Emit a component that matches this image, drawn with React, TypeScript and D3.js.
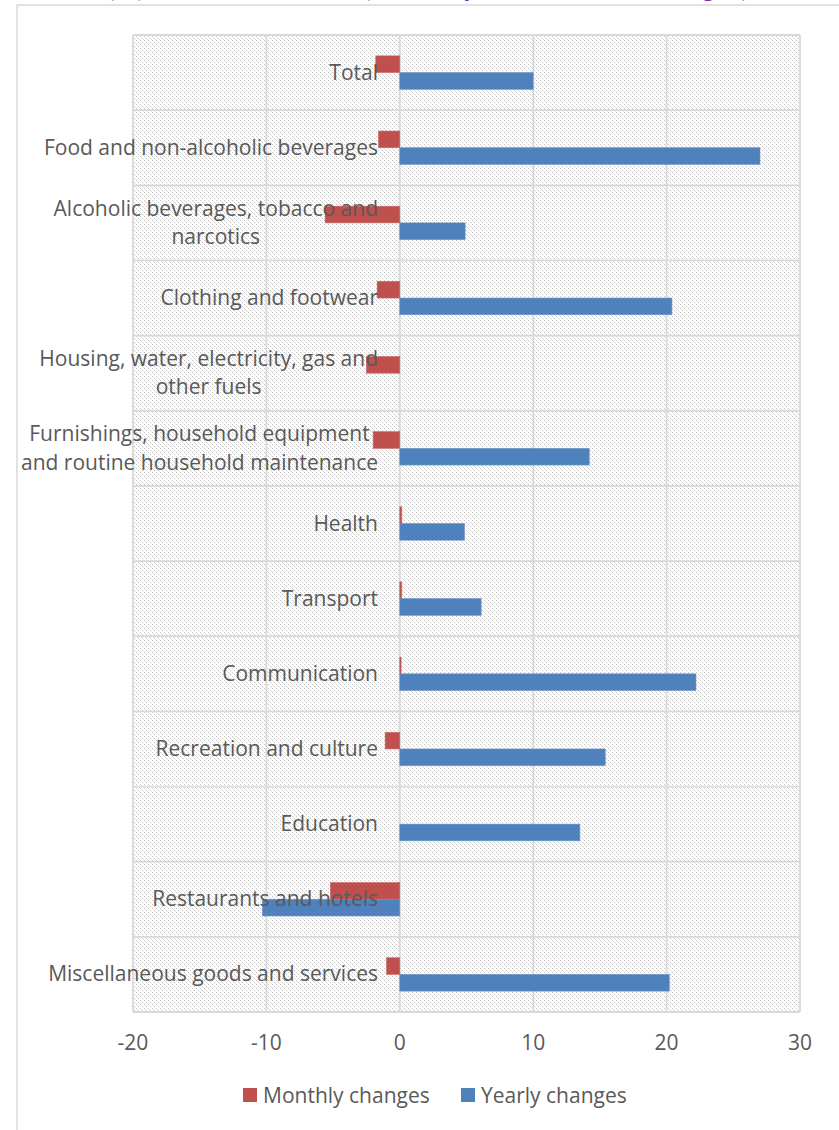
import React from "react";
import * as d3 from "d3";

const categories = [
  ["Total"],
  ["Food and non-alcoholic beverages"],
  ["Alcoholic beverages, tobacco and", "narcotics"],
  ["Clothing and footwear"],
  ["Housing, water, electricity, gas and", "other fuels"],
  ["Furnishings, household equipment", "and routine household maintenance"],
  ["Health"],
  ["Transport"],
  ["Communication"],
  ["Recreation and culture"],
  ["Education"],
  ["Restaurants and hotels"],
  ["Miscellaneous goods and services"],
];
const monthly = [-1.8, -1.6, -5.6, -1.7, -2.5, -2.0, 0.15, 0.15, 0.1, -1.1, 0, -5.2, -1.0];
const yearly = [10.0, 27.0, 4.9, 20.4, 0, 14.2, 4.85, 6.1, 22.2, 15.4, 13.5, -10.3, 20.2];
const xTicks = [-20, -10, 0, 10, 20, 30];
const seriesNames = ["Monthly changes", "Yearly changes"];
const colors = ["#C0504D", "#4F81BD"];

const W = 839;
const H = 1130;
const left = 133, right = 800, top = 35, bottom = 1012;
const FONT = "'Open Sans', sans-serif";
const FS = 21;
const TXT = "#595959";
const GRID = "#d9d9d9";

let ctx: CanvasRenderingContext2D | null = null;
function measure(s: string): number {
  if (typeof document === "undefined") return s.length * FS * 0.5;
  if (!ctx) ctx = document.createElement("canvas").getContext("2d");
  if (!ctx) return s.length * FS * 0.5;
  ctx.font = `${FS}px 'Open Sans', sans-serif`;
  return ctx.measureText(s).width;
}

export default function App() {
  const x = d3.scaleLinear().domain([-20, 30]).range([left, right]);
  const keys = categories.map((c) => c.join(" "));
  const y = d3.scaleBand().domain(keys).range([top, bottom]).paddingInner(0).paddingOuter(0);
  const inner = d3
    .scaleBand()
    .domain(seriesNames)
    .range([0, y.bandwidth()])
    .paddingInner(0)
    .paddingOuter(1.25);
  const series = [monthly, yearly];
  const titleFont = "'Liberation Serif', serif";

  return (
    <svg width={W} height={H} style={{ position: "absolute", left: 0, top: 0 }}>
      <defs>
        <pattern id="hatch" width="4" height="4" patternUnits="userSpaceOnUse">
          <rect x="0" y="0" width="1" height="1" fill="#c6c6c6" />
          <rect x="1" y="1" width="1" height="1" fill="#e8e8e8" />
          <rect x="2" y="2" width="1" height="1" fill="#c6c6c6" />
          <rect x="3" y="3" width="1" height="1" fill="#e8e8e8" />
        </pattern>
      </defs>
      <rect x={0} y={0} width={W} height={H} fill="#fff" />
      {/* cut-off title (only descenders visible) */}
      <text x={146} y={-4} textAnchor="end" fontFamily={titleFont} fontWeight="bold" fontSize={24} fill="#7030A0">
        Chart 2: Consumer Price Index (%)
      </text>
      <text x={175} y={-4} fontFamily={titleFont} fontWeight="bold" fontSize={24} fill="#7030A0">
        Inflation rates
      </text>
      <text x={362} y={-4} fontFamily={titleFont} fontWeight="bold" fontSize={24} fill="#7030A0" textLength={388} lengthAdjust="spacing">
        (Monthly and Annual changes)
      </text>
      {/* outer chart border */}
      <rect x={17} y={5} width={900} height={1300} fill="#fff" stroke={GRID} strokeWidth={1.5} />
      {/* plot area */}
      <rect x={left} y={top} width={right - left} height={bottom - top} fill="url(#hatch)" shapeRendering="crispEdges" />
      {xTicks.map((t) => (
        <line key={"v" + t} x1={x(t)} x2={x(t)} y1={top} y2={bottom} stroke={GRID} strokeWidth={1.8} />
      ))}
      {keys.map((k) => (
        <line key={"h" + k} x1={left} x2={right} y1={y(k)!} y2={y(k)!} stroke={GRID} strokeWidth={1.8} />
      ))}
      <line x1={left} x2={right} y1={bottom} y2={bottom} stroke={GRID} strokeWidth={1.8} />
      {/* bars */}
      {series.map((vals, si) =>
        vals.map((v, i) => {
          const k = keys[i];
          const y0 = y(k)! + inner(seriesNames[si])!;
          const x0 = x(Math.min(0, v));
          const w = Math.abs(x(v) - x(0));
          if (w === 0) return null;
          return (
            <rect key={si + "-" + i} x={x0} y={y0} width={w} height={inner.bandwidth()} fill={colors[si]} stroke={si === 0 ? "#c86a68" : "#6a94c6"} strokeWidth={0.6} />
          );
        })
      )}
      {/* category labels */}
      {categories.map((lines, i) => {
        const cy = y(keys[i])! + y.bandwidth() / 2;
        const lh = 28.5;
        const maxW = Math.max(...lines.map(measure));
        const cx = 378 - maxW / 2;
        return (
          <text key={"l" + i} fontFamily={FONT} fontSize={FS} fill={TXT} textAnchor="middle">
            {lines.map((ln, j) => (
              <tspan key={j} x={cx} y={cy + (j - (lines.length - 1) / 2) * lh + 7}>
                {ln}
              </tspan>
            ))}
          </text>
        );
      })}
      {/* x tick labels */}
      {xTicks.map((t) => (
        <text key={"t" + t} x={x(t)} y={1050} textAnchor="middle" fontFamily={FONT} fontSize={FS} fill={TXT}>
          {t}
        </text>
      ))}
      {/* legend */}
      <rect x={243} y={1088} width={14} height={14} fill={colors[0]} />
      <text x={263} y={1103} fontFamily={FONT} fontSize={FS} fill={TXT}>{seriesNames[0]}</text>
      <rect x={461} y={1088} width={14} height={14} fill={colors[1]} />
      <text x={481} y={1103} fontFamily={FONT} fontSize={FS} fill={TXT}>{seriesNames[1]}</text>
    </svg>
  );
}
